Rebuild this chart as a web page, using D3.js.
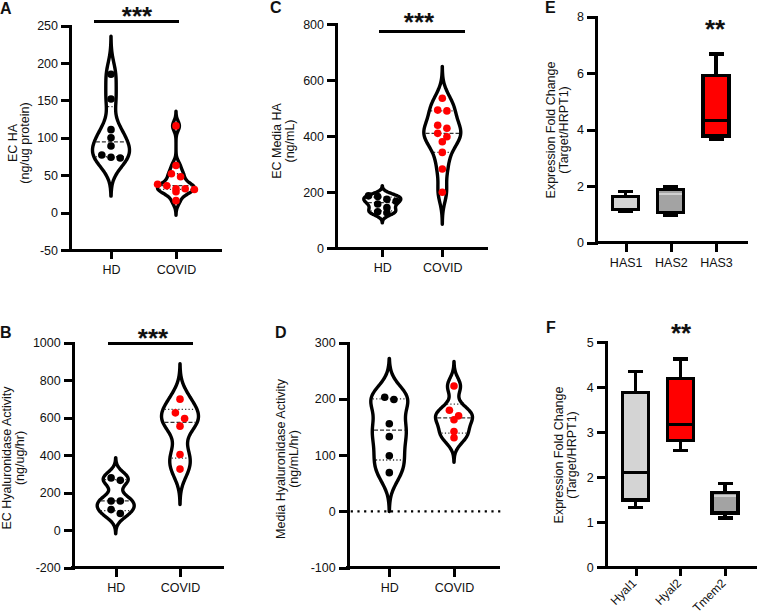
<!DOCTYPE html>
<html>
<head>
<meta charset="utf-8">
<script src="https://cdn.jsdelivr.net/npm/d3@7"></script>
<style>
  body { margin: 0; background: #fff; }
  text { font-family: "Liberation Sans", Arial, sans-serif; fill: #111; }
</style>
</head>
<body>
<svg id="chart" width="757" height="616"></svg>
<script>
// ---------- data ----------
var groups = ["HD", "COVID"];

// A: EC HA (ng/ug protein)
var ecHA_HD = [185, 152, 111, 100, 89, 77, 74, 73];
var ecHA_COVID = [116, 63, 52, 48, 38, 36, 32, 32, 31, 28, 16];
// B: EC Hyaluronidase Activity (ng/ug/hr)
var ecHyal_HD = [279, 266, 156, 156, 110, 89];
var ecHyal_COVID = [699, 626, 596, 555, 404, 326];
// C: EC Media HA (ng/mL)
var mediaHA_HD = [187, 185, 175, 168, 158, 145, 130, 127];
var mediaHA_COVID = [535, 493, 490, 439, 428, 410, 398, 380, 342, 283, 200];
// D: Media Hyaluronidase Activity (ng/mL/hr)
var mediaHyal_HD = [203, 199, 156, 133, 99, 69];
var mediaHyal_COVID = [223, 180, 170, 163, 142, 131];

// violin smoothing (kernel bandwidth, data units) for [HD, COVID]
var bwA = [17, 6.5];
var bwB = [36, 63];
var bwC = [12, 38];
var bwD = [23, 14.5];

// E / F box plots: [min, q1, median, q3, max]
var hasGenes = ["HAS1", "HAS2", "HAS3"];
var hasBoxes = [
    [1.12, 1.17, 1.19, 1.64, 1.81],
    [0.96, 1.06, 1.72, 1.88, 2.00],
    [3.66, 3.78, 4.34, 5.93, 6.68]
];
var hyalGenes = ["Hyal1", "Hyal2", "Tmem2"];
var hyalBoxes = [
    [1.33, 1.49, 2.10, 3.88, 4.35],
    [2.59, 2.81, 3.17, 4.19, 4.63],
    [1.09, 1.20, 1.57, 1.66, 1.85]
];

// axis ticks
var ticksA = [-50, 0, 50, 100, 150, 200, 250];
var ticksB = [-200, 0, 200, 400, 600, 800, 1000];
var ticksC = [0, 200, 400, 600, 800];
var ticksD = [-100, 0, 100, 200, 300];
var ticksE = [0, 2, 4, 6, 8];
var ticksF = [0, 1, 2, 3, 4, 5];

// ---------- colours ----------
var red = "#ff0000";
var lightGray = "#d4d4d4";
var midGray = "#a3a3a3";

var svg = d3.select("#chart");

var violinHalf = 18.5;
var dotR = 3.8;
var axisW = 3;

// quantile the way Prism does it ((n+1)p)
function quantile6(values, p) {
    var s = values.slice().sort(d3.ascending);
    var h = (s.length + 1) * p;
    if (h <= 1) return s[0];
    if (h >= s.length) return s[s.length - 1];
    var lo = Math.floor(h);
    return s[lo - 1] + (h - lo) * (s[lo] - s[lo - 1]);
}

function density(values, bw, v) {
    return d3.sum(values, function(x) {
        var u = (v - x) / bw;
        return Math.exp(-0.5 * u * u);
    });
}

// put dots that sit at the same height side by side
function swarm(values, y) {
    var sorted = values.slice().sort(d3.descending);
    var rows = [], cur = null;
    sorted.forEach(function(v) {
        if (cur && Math.abs(y(v) - y(cur[0])) < dotR * 1.6) cur.push(v);
        else { cur = [v]; rows.push(cur); }
    });
    var out = [];
    var step = dotR * 2 + 1.6;
    rows.forEach(function(row) {
        row.forEach(function(v, i) {
            out.push({ v: v, dx: (i - (row.length - 1) / 2) * step });
        });
    });
    return out;
}

function panelFrame(p, ticks) {
    var g = svg.append("g");
    var y = d3.scaleLinear().domain(p.dom).range([p.y1, p.y0]);
    var x = d3.scalePoint().domain(p.cats).range(p.cx);

    // y axis
    var ya = g.append("g")
        .attr("transform", "translate(" + p.x0 + ",0)")
        .call(d3.axisLeft(y).tickValues(ticks).tickSize(9).tickPadding(3).tickSizeOuter(0)
            .tickFormat(function(d) { return String(d); }));
    ya.select(".domain")
        .attr("stroke", "#000").attr("stroke-width", axisW)
        .attr("stroke-linecap", "square").attr("shape-rendering", "crispEdges");
    ya.selectAll(".tick line")
        .attr("stroke", "#000").attr("stroke-width", axisW).attr("shape-rendering", "crispEdges");
    ya.selectAll(".tick text").style("font-size", "12.5px").attr("fill", "#111");

    // x axis line + ticks
    g.append("line")
        .attr("x1", p.x0).attr("x2", p.x1)
        .attr("y1", p.y1).attr("y2", p.y1)
        .attr("stroke", "#000").attr("stroke-width", axisW)
        .attr("stroke-linecap", "square").attr("shape-rendering", "crispEdges");
    var xa = g.append("g")
        .attr("transform", "translate(0," + p.y1 + ")")
        .call(d3.axisBottom(x).tickSize(9).tickPadding(6));
    xa.select(".domain").remove();
    xa.selectAll(".tick line")
        .attr("stroke", "#000").attr("stroke-width", axisW).attr("shape-rendering", "crispEdges");
    xa.selectAll(".tick text").style("font-size", "12.5px").attr("fill", "#111");
    if (p.rotate) {
        xa.selectAll(".tick text")
            .style("font-size", "12px")
            .attr("text-anchor", "end")
            .attr("dy", null)
            .attr("y", 0)
            .attr("transform", "translate(1,17) rotate(-45)");
    }

    // panel letter
    g.append("text")
        .attr("x", p.letter[1]).attr("y", p.letter[2])
        .style("font-size", "16px").style("font-weight", "bold")
        .text(p.letter[0]);

    // y title (two lines, rotated)
    var t = g.append("text")
        .attr("transform", "translate(" + p.titleX + "," + p.titleY + ") rotate(-90)")
        .attr("text-anchor", "middle")
        .style("font-size", "12.5px");
    t.append("tspan").attr("x", 0).attr("y", 0).text(p.title[0]);
    t.append("tspan").attr("x", 0).attr("y", 12.5).text(p.title[1]);

    return { g: g, x: x, y: y };
}

function significance(f, p) {
    if (p.bar) {
        f.g.append("line")
            .attr("x1", p.bar[0]).attr("x2", p.bar[1])
            .attr("y1", f.y(p.bar[2])).attr("y2", f.y(p.bar[2]))
            .attr("stroke", "#000").attr("stroke-width", axisW)
            .attr("shape-rendering", "crispEdges");
    }
    f.g.append("text")
        .attr("x", p.stars[1]).attr("y", p.stars[2])
        .attr("text-anchor", "middle")
        .style("font-size", "26px").style("font-weight", "bold")
        .text(p.stars[0]);
}

function drawViolins(p, ticks, sets, bws) {
    var f = panelFrame(p, ticks);

    if (p.zeroLine) {
        f.g.append("line")
            .attr("x1", p.x0 + 3).attr("x2", p.x1 + 4)
            .attr("y1", f.y(0)).attr("y2", f.y(0))
            .attr("stroke", "#000").attr("stroke-width", 2.2)
            .attr("stroke-dasharray", "2.2,4.5");
    }

    sets.forEach(function(vals, i) {
        var cx = f.x(groups[i]);
        var bw = bws[i];
        var lo = d3.min(vals) - 3 * bw, hi = d3.max(vals) + 3 * bw;
        var grid = d3.range(0, 121).map(function(k) { return lo + (hi - lo) * k / 120; });
        var dens = grid.map(function(v) { return [v, density(vals, bw, v)]; });
        var w = d3.scaleLinear().domain([0, d3.max(dens, function(d) { return d[1]; })]).range([0, violinHalf]);

        var area = d3.area()
            .y(function(d) { return f.y(d[0]); })
            .x0(function(d) { return cx - w(d[1]); })
            .x1(function(d) { return cx + w(d[1]); })
            .curve(d3.curveBasis);

        f.g.append("path")
            .datum(dens)
            .attr("d", area)
            .attr("fill", "#fff")
            .attr("stroke", "#000")
            .attr("stroke-width", 3.4)
            .attr("stroke-linejoin", "round");

        // median (dashed) and quartiles (dotted)
        [[0.25, "1.2,2.2"], [0.5, "4,2"], [0.75, "1.2,2.2"]].forEach(function(q) {
            var qv = quantile6(vals, q[0]);
            var hw = w(density(vals, bw, qv)) - 1.7;
            f.g.append("line")
                .attr("x1", cx - hw).attr("x2", cx + hw)
                .attr("y1", f.y(qv)).attr("y2", f.y(qv))
                .attr("stroke", "#333").attr("stroke-width", 1.3)
                .attr("stroke-dasharray", q[1]);
        });

        f.g.selectAll(null)
            .data(swarm(vals, f.y))
            .enter()
            .append("circle")
            .attr("cx", function(d) { return cx + d.dx; })
            .attr("cy", function(d) { return f.y(d.v); })
            .attr("r", dotR)
            .attr("fill", i === 0 ? "#000" : red);
    });

    significance(f, p);
}

function drawBoxes(p, ticks, genes, boxes, fills, medColors) {
    var f = panelFrame(p, ticks);
    var half = 13, cap = 7.5;

    genes.forEach(function(gname, i) {
        var b = boxes[i];
        var cx = f.x(gname);
        var g = f.g.append("g").attr("shape-rendering", "crispEdges");

        [[b[3], b[4]], [b[1], b[0]]].forEach(function(wh) {
            g.append("line")
                .attr("x1", cx).attr("x2", cx)
                .attr("y1", f.y(wh[0])).attr("y2", f.y(wh[1]))
                .attr("stroke", "#000").attr("stroke-width", 3.2);
            g.append("line")
                .attr("x1", cx - cap).attr("x2", cx + cap)
                .attr("y1", f.y(wh[1])).attr("y2", f.y(wh[1]))
                .attr("stroke", "#000").attr("stroke-width", 3.2);
        });

        g.append("rect")
            .attr("x", cx - half).attr("width", half * 2)
            .attr("y", f.y(b[3])).attr("height", f.y(b[1]) - f.y(b[3]))
            .attr("fill", fills[i])
            .attr("stroke", "#000").attr("stroke-width", 3.2);

        g.append("line")
            .attr("x1", cx - half + 1.6).attr("x2", cx + half - 1.6)
            .attr("y1", f.y(b[2])).attr("y2", f.y(b[2]))
            .attr("stroke", medColors[i]).attr("stroke-width", medColors[i] === "#000" ? 3 : 2);
    });

    significance(f, p);
}

// ---------- panels ----------
drawViolins({
    x0: 70, x1: 220, y0: 25.7, y1: 250, dom: [-50, 250], cats: groups, cx: [111, 176],
    letter: ["A", 0, 14], title: ["EC HA", "(ng/ug protein)"], titleX: 16.5, titleY: 143,
    bar: [94, 179, 255], stars: ["***", 137, 25]
}, ticksA, [ecHA_HD, ecHA_COVID], bwA);

drawViolins({
    x0: 72.7, x1: 222.7, y0: 342.7, y1: 567.7, dom: [-200, 1000], cats: groups, cx: [115.7, 180],
    letter: ["B", 0, 338], title: ["EC Hyaluronidase Activity", "(ng/ug/hr)"], titleX: 11, titleY: 458,
    bar: [108, 193, 996], stars: ["***", 153, 347]
}, ticksB, [ecHyal_HD, ecHyal_COVID], bwB);

drawViolins({
    x0: 336, x1: 486.7, y0: 24, y1: 248.3, dom: [0, 800], cats: groups, cx: [382.3, 442.3],
    letter: ["C", 270, 13], title: ["EC Media HA", "(ng/mL)"], titleX: 281, titleY: 141,
    bar: [379, 465, 772], stars: ["***", 419, 31]
}, ticksC, [mediaHA_HD, mediaHA_COVID], bwC);

drawViolins({
    x0: 347.7, x1: 498, y0: 342.7, y1: 567.7, dom: [-100, 300], cats: groups, cx: [389.3, 454],
    letter: ["D", 275, 338], title: ["Media Hyaluronidase Activity", "(ng/mL/hr)"], titleX: 285, titleY: 459,
    zeroLine: true, stars: ["", 0, 0]
}, ticksD, [mediaHyal_HD, mediaHyal_COVID], bwD);

drawBoxes({
    x0: 596, x1: 746.7, y0: 16.7, y1: 242.7, dom: [0, 8], cats: hasGenes, cx: [625.7, 716],
    letter: ["E", 545, 13], title: ["Expression Fold Change", "(Target/HRPT1)"], titleX: 555, titleY: 130,
    stars: ["**", 715, 38]
}, ticksE, hasGenes, hasBoxes, [lightGray, midGray, red], ["#000", "#d0d0d0", "#000"]);

drawBoxes({
    x0: 605.7, x1: 756.7, y0: 342.3, y1: 567, dom: [0, 5], cats: hyalGenes, cx: [635.7, 725],
    letter: ["F", 546, 333], title: ["Expression Fold Change", "(Target/HRPT1)"], titleX: 563, titleY: 455,
    rotate: true, stars: ["**", 681, 342]
}, ticksF, hyalGenes, hyalBoxes, [lightGray, red, midGray], ["#000", "#000", "#d0d0d0"]);
</script>
</body>
</html>
